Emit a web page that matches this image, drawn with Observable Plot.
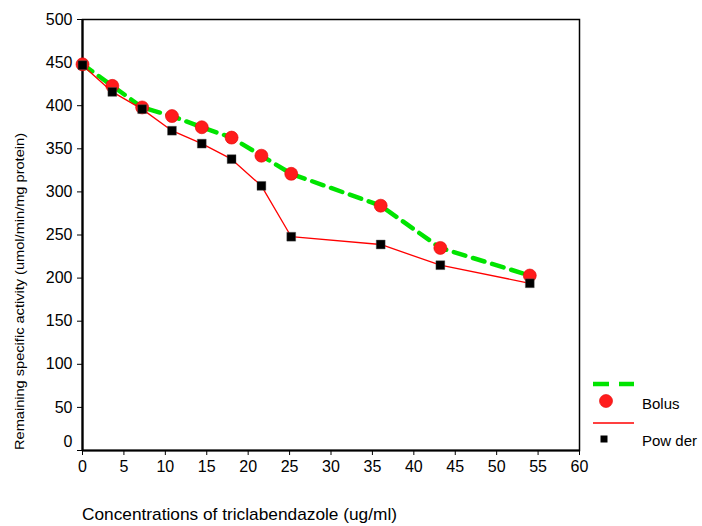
<!DOCTYPE html>
<html>
<head>
<meta charset="utf-8">
<script src="https://cdn.jsdelivr.net/npm/d3@7"></script>
<script src="https://cdn.jsdelivr.net/npm/@observablehq/plot@0.6"></script>
<style>
  html, body { margin: 0; padding: 0; background: #fff; }
  #wrap { position: relative; width: 702px; height: 526px; font-family: "Liberation Sans", Arial, sans-serif; }
  #legend { position: absolute; left: 0; top: 0; pointer-events: none; }
</style>
</head>
<body>
<div id="wrap"></div>
<script>
// ---- data ----
const concentrations = [0, 3.6, 7.2, 10.8, 14.4, 18, 21.6, 25.2, 36, 43.2, 54];
const bolusValues    = [448, 423, 398, 388, 375, 363, 342, 321, 284, 235, 203];
const powderValues   = [447, 416, 396, 371, 356, 338, 307, 248, 239, 215, 194];
const xTicks = [0, 5, 10, 15, 20, 25, 30, 35, 40, 45, 50, 55, 60];
const yTicks = [0, 50, 100, 150, 200, 250, 300, 350, 400, 450, 500];
const seriesNames = ["Bolus", "Pow der"];
const xLabel = "Concentrations of triclabendazole (ug/ml)";
const yLabel = "Remaining specific activity (umol/min/mg protein)";

const bolus  = concentrations.map((c, i) => ({x: c, y: bolusValues[i]}));
const powder = concentrations.map((c, i) => ({x: c, y: powderValues[i]}));

const W = 702, H = 526;
const mL = 82, mR = 123, mT = 19, mB = 76;

const plot = Plot.plot({
  width: W,
  height: H,
  marginLeft: mL,
  marginRight: mR,
  marginTop: mT,
  marginBottom: mB,
  style: {fontFamily: "'Liberation Sans', Arial, sans-serif", fontSize: "16px", color: "#000", background: "#fff"},
  x: {domain: [0, 60]},
  y: {domain: [0, 500]},
  marks: [
    Plot.frame({stroke: "#000", strokeWidth: 1.5}),
    Plot.axisX({ticks: xTicks, tickSize: 5, tickPadding: 5, label: null, fontSize: 16}),
    Plot.axisY({ticks: yTicks, tickSize: 5, tickPadding: 5, label: null, fontSize: 16}),
    Plot.ruleX([0], {stroke: "#000", strokeWidth: 2.2}),
    Plot.ruleY([0], {stroke: "#000", strokeWidth: 2.2}),
    Plot.line(bolus, {x: "x", y: "y", stroke: "#00e400", strokeWidth: 4.5, strokeDasharray: "12,8"}),
    Plot.dot(bolus, {x: "x", y: "y", r: 6.5, fill: "#ff1c1c", stroke: "#e40000", strokeWidth: 0.6}),
    Plot.line(powder, {x: "x", y: "y", stroke: "#ff0000", strokeWidth: 1.3}),
    Plot.dot(powder, {x: "x", y: "y", symbol: "square", r: 5, fill: "#000", stroke: "#555", strokeWidth: 0.4})
  ]
});

document.getElementById("wrap").appendChild(plot);

const svg = d3.select(plot);

// The reference lifts the "0" y tick label above the baseline
svg.selectAll('g[aria-label="y-axis tick label"] text')
  .filter(function() { return this.textContent === "0"; })
  .each(function() {
    const t = this.getAttribute("transform") || "";
    this.setAttribute("transform", t + " translate(0,-9)");
  });

// Axis titles
svg.append("text")
  .attr("x", mL)
  .attr("y", 514)
  .attr("dy", "0.35em")
  .attr("text-anchor", "start")
  .attr("font-size", 17)
  .attr("fill", "#000")
  .attr("textLength", 315)
  .attr("lengthAdjust", "spacingAndGlyphs")
  .text(xLabel);

svg.append("text")
  .attr("transform", "translate(19,291.5) rotate(-90)")
  .attr("dy", "0.35em")
  .attr("text-anchor", "middle")
  .attr("font-size", 13.5)
  .attr("fill", "#000")
  .attr("textLength", 317)
  .attr("lengthAdjust", "spacingAndGlyphs")
  .text(yLabel);

// Legend (right side)
const lg = d3.select("#wrap").append("svg")
  .attr("id", "legend")
  .attr("width", W).attr("height", H)
  .style("font-family", "'Liberation Sans', Arial, sans-serif");

lg.append("line").attr("x1", 593).attr("x2", 634).attr("y1", 384).attr("y2", 384)
  .attr("stroke", "#00e400").attr("stroke-width", 4.5).attr("stroke-dasharray", "16,10");
lg.append("circle").attr("cx", 606).attr("cy", 401).attr("r", 6.5)
  .attr("fill", "#ff1c1c").attr("stroke", "#e40000").attr("stroke-width", 0.6);
lg.append("text").attr("x", 642).attr("y", 404).attr("dy", "0.35em")
  .attr("font-size", 15).text(seriesNames[0]);
lg.append("line").attr("x1", 593).attr("x2", 634).attr("y1", 423).attr("y2", 423)
  .attr("stroke", "#ff0000").attr("stroke-width", 1.3);
lg.append("rect").attr("x", 600.5).attr("y", 435.5).attr("width", 7).attr("height", 7)
  .attr("fill", "#000");
lg.append("text").attr("x", 642).attr("y", 441).attr("dy", "0.35em")
  .attr("font-size", 15).text(seriesNames[1]);
</script>
</body>
</html>
